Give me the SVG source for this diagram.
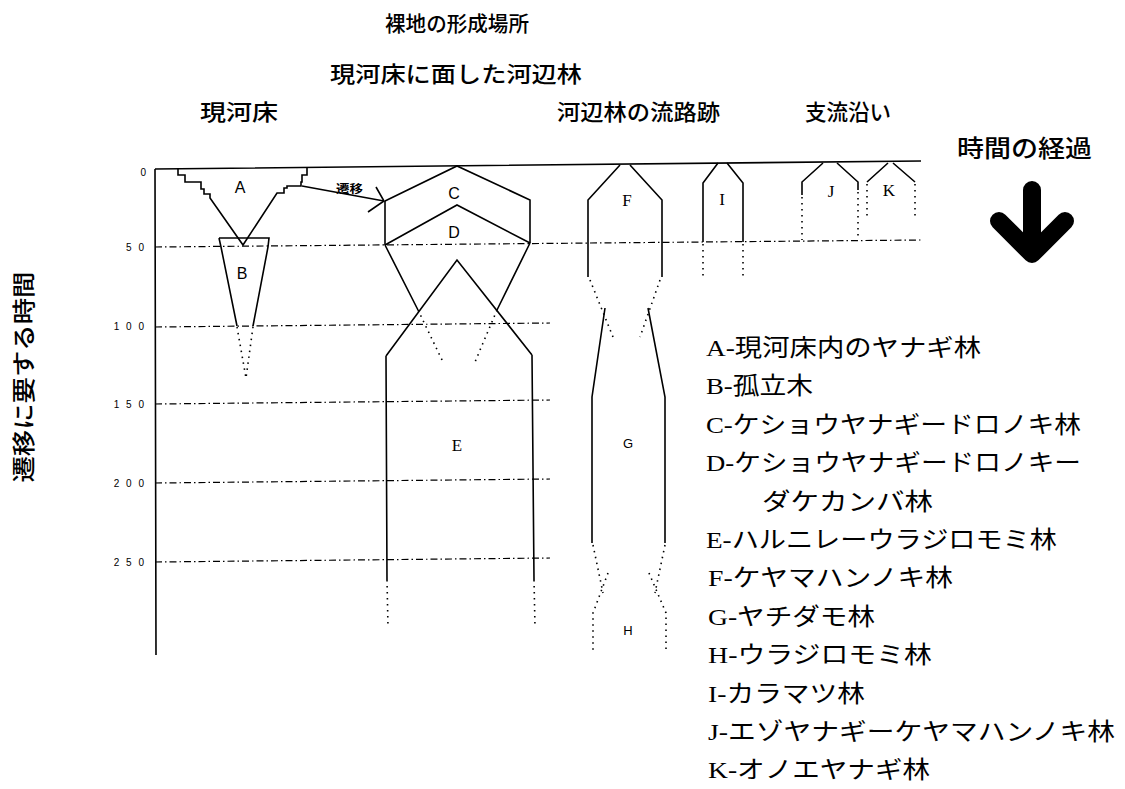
<svg xmlns="http://www.w3.org/2000/svg" width="1125" height="789" viewBox="0 0 1125 789">
<style>
.s{fill:none;stroke:#000;stroke-width:1.6;stroke-linejoin:miter}
.d{fill:none;stroke:#000;stroke-width:1.6;stroke-dasharray:1.5 4.5}
.g{fill:none;stroke:#000;stroke-width:1.2;stroke-dasharray:7 3 1.5 3}
.h{font-family:"Noto Sans CJK JP",sans-serif;font-weight:500;font-size:22px;fill:#000}
.ax{font-family:"Liberation Sans",sans-serif;font-size:10px;fill:#000;text-anchor:end;letter-spacing:2px}
.ls{font-family:"Liberation Sans",sans-serif;font-size:16px;fill:#000;text-anchor:middle}
.lr{font-family:"Liberation Serif",serif;font-size:17px;fill:#000;text-anchor:middle}
.lg{font-family:"Liberation Serif","Noto Sans CJK JP",serif;font-size:24px;fill:#000}
</style>
<rect width="1125" height="789" fill="#fff"/>

<g id="titles">
<text class="h" x="385" y="31" textLength="144" lengthAdjust="spacingAndGlyphs" style="font-size:21px">裸地の形成場所</text>
<text class="h" x="330" y="82" textLength="252" lengthAdjust="spacingAndGlyphs">現河床に面した河辺林</text>
<text class="h" x="200" y="120" textLength="78" lengthAdjust="spacingAndGlyphs">現河床</text>
<text class="h" x="557" y="120" textLength="163" lengthAdjust="spacingAndGlyphs">河辺林の流路跡</text>
<text class="h" x="805" y="120" textLength="86" lengthAdjust="spacingAndGlyphs">支流沿い</text>
<text class="h" x="957" y="157" textLength="135" lengthAdjust="spacingAndGlyphs" style="font-size:24px">時間の経過</text>
<text class="h" transform="translate(32,377) rotate(-90)" text-anchor="middle" textLength="211" lengthAdjust="spacingAndGlyphs" style="font-size:23px">遷移に要する時間</text>
</g>

<g id="time-arrow" fill="none" stroke="#000" stroke-width="18" stroke-linecap="round" stroke-linejoin="round">
<path d="M1032,190 V250 M999,221 L1032,254 L1065,221"/>
</g>

<g id="axes">
<path class="s" d="M155,169 L921,161 M155,169 L156,655"/>
<path class="g" d="M155,247 L921,240 M155,327 L550,323 M155,404 L550,400 M155,483 L550,479 M155,562 L550,558"/>
<text class="ax" x="148" y="176">0</text>
<text class="ax" x="146" y="251">5 0</text>
<text class="ax" x="146" y="330">1 0 0</text>
<text class="ax" x="146" y="408">1 5 0</text>
<text class="ax" x="146" y="487">2 0 0</text>
<text class="ax" x="146" y="566">2 5 0</text>
</g>

<g id="node-A">
<path class="s" d="M178,168 V175 H185 V182 H201 V189 H204 V194 H210 V198 L243,245 L277,193 H284 V188 H287 V186 H301 V182 H302 V175 H307 V167"/>
<text class="ls" x="240" y="193">A</text>
</g>

<g id="node-B">
<path class="s" d="M219,238 H269 L268,247 L253,326 M219,238 L221,247 L237,326"/>
<path class="d" d="M237,327 L246,378 L253,327"/>
<text class="ls" x="242" y="279">B</text>
</g>

<g id="connectors">
<path class="s" d="M302,186 L384,201"/>
<path class="s" d="M376,187 L384,201 L368,212"/>
<text x="336" y="193" style="font-family:'Noto Sans CJK JP',sans-serif;font-weight:bold;font-size:11px" textLength="27" lengthAdjust="spacingAndGlyphs">遷移</text>
</g>

<g id="node-C">
<path class="s" d="M385,201 L457,166 L530,200 V243"/>
<path class="s" d="M385,201 V245"/>
<text class="ls" x="454" y="199">C</text>
</g>

<g id="node-D">
<path class="s" d="M385,245 L457,205 L530,243"/>
<path class="s" d="M385,245 L418,310 M530,243 L497,310"/>
<path class="d" d="M418,310 L443,362 M497,310 L475,362"/>
<text class="ls" x="454" y="238">D</text>
</g>

<g id="node-E">
<path class="s" d="M386,356 L457,260 L532,355 M386,356 L387,580 M532,355 L534,580"/>
<path class="d" d="M387,580 L388,627 M534,580 L535,627"/>
<text class="lr" x="457" y="451">E</text>
</g>

<g id="node-F">
<path class="s" d="M588,277 V200 L620,165 M630,165 L662,200 V277"/>
<path class="d" d="M590,280 L613,337 M660,280 L640,337"/>
<text class="lr" x="627" y="206">F</text>
</g>

<g id="node-G">
<path class="s" d="M605,308 L592,397 V543 M648,308 L665,397 V543"/>
<text class="ls" x="628" y="448" style="font-size:13px">G</text>
</g>

<g id="node-H">
<path class="d" d="M593,545 L603,593 M608,573 L593,613 V652 M665,545 L655,593 M649,573 L666,613 V652"/>
<text class="ls" x="628" y="635" style="font-size:13px">H</text>
</g>

<g id="node-I">
<path class="s" d="M703,242 V183 L718,163 M727,163 L743,183 V242"/>
<path class="d" d="M703,244 V278 M743,244 V278"/>
<text class="lr" x="722" y="205">I</text>
</g>

<g id="node-J">
<path class="s" d="M802,195 V182 L823,163 M837,163 L858,182 V190"/>
<path class="d" d="M802,197 V240 M858,192 V240"/>
<text class="lr" x="831" y="197">J</text>
</g>

<g id="node-K">
<path class="s" d="M867,182 L888,163 M893,163 L915,182"/>
<path class="d" d="M867,184 V217 M915,184 V217"/>
<text class="lr" x="889" y="196">K</text>
</g>

<g id="legend">
<text class="lg" x="706" y="356" textLength="275" lengthAdjust="spacingAndGlyphs">A-現河床内のヤナギ林</text>
<text class="lg" x="706" y="394" textLength="107" lengthAdjust="spacingAndGlyphs">B-孤立木</text>
<text class="lg" x="706" y="433" textLength="375" lengthAdjust="spacingAndGlyphs">C-ケショウヤナギードロノキ林</text>
<text class="lg" x="706" y="471" textLength="375" lengthAdjust="spacingAndGlyphs">D-ケショウヤナギードロノキー</text>
<text class="lg" x="762" y="510" textLength="171" lengthAdjust="spacingAndGlyphs">ダケカンバ林</text>
<text class="lg" x="706" y="548" textLength="351" lengthAdjust="spacingAndGlyphs">E-ハルニレーウラジロモミ林</text>
<text class="lg" x="708" y="586" textLength="245" lengthAdjust="spacingAndGlyphs">F-ケヤマハンノキ林</text>
<text class="lg" x="708" y="625" textLength="167" lengthAdjust="spacingAndGlyphs">G-ヤチダモ林</text>
<text class="lg" x="708" y="663" textLength="224" lengthAdjust="spacingAndGlyphs">H-ウラジロモミ林</text>
<text class="lg" x="708" y="702" textLength="157" lengthAdjust="spacingAndGlyphs">I-カラマツ林</text>
<text class="lg" x="708" y="740" textLength="407" lengthAdjust="spacingAndGlyphs">J-エゾヤナギーケヤマハンノキ林</text>
<text class="lg" x="708" y="778" textLength="222" lengthAdjust="spacingAndGlyphs">K-オノエヤナギ林</text>
</g>
</svg>
